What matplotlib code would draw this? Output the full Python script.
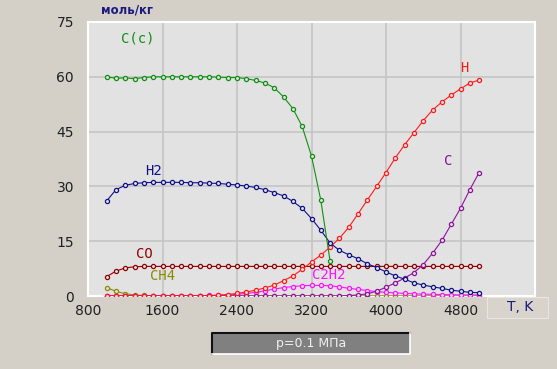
import numpy as np
import matplotlib
matplotlib.use("Agg")
import matplotlib.pyplot as plt
from matplotlib.patches import Rectangle
from matplotlib.lines import Line2D

# temperature grid, K
T = np.arange(1000, 5001, 100)

c_solid = [60.0, 59.6, 59.7, 59.5, 59.8, 60.0, 60.0, 60.0, 60.0, 60.0, 60.0, 60.0,
           59.9, 59.8, 59.8, 59.5, 59.0, 58.3, 57.0, 54.5, 51.3, 46.4, 38.3, 26.2, 9.5]
h2 = [26.0, 29.1, 30.3, 30.8, 31.0, 31.1, 31.1, 31.1, 31.1, 31.0, 31.0, 30.9, 30.8,
      30.6, 30.4, 30.1, 29.7, 29.1, 28.3, 27.4, 25.9, 24.0, 21.2, 18.0, 14.5, 12.5,
      11.3, 10.2, 8.8, 7.8, 6.6, 5.5, 4.6, 3.6, 3.0, 2.5, 2.1, 1.6, 1.3, 1.0, 0.9]
h = [0.0] * 10 + [0.05, 0.1, 0.2, 0.4, 0.7, 1.1, 1.6, 2.2, 3.0, 4.2, 5.5, 7.3, 9.3,
                  11.2, 13.4, 15.8, 18.8, 22.5, 26.3, 30.0, 33.8, 37.8, 41.4, 44.7,
                  48.0, 50.9, 53.1, 55.0, 56.7, 58.3, 59.1]
c_gas = [0.0] * 26 + [0.1, 0.3, 0.6, 1.3, 2.4, 3.6, 4.9, 6.4, 8.6, 11.7, 15.2, 19.6,
                      24.0, 29.1, 33.8]
co = [5.3, 6.8, 7.7, 8.0] + [8.1] * 37
ch4 = [2.3, 1.3, 0.6, 0.3, 0.15] + [0.05] * 36
c2h2 = [0.1] * 11 + [0.15, 0.2, 0.3, 0.45, 0.7, 1.0, 1.4, 1.9, 2.3, 2.6, 2.8, 2.9,
                     2.9, 2.8, 2.5, 2.1, 1.8, 1.5, 1.2, 1.0, 0.85, 0.7, 0.6, 0.5,
                     0.45, 0.4, 0.35, 0.3, 0.3, 0.3]

x_ticks = [800, 1600, 2400, 3200, 4000, 4800]
y_ticks = [0, 15, 30, 45, 60, 75]

series = [
    ("CH4", ch4, "#8a8a00", (1600, 5.4)),
    ("C2H2", c2h2, "#ff10ff", (3390, 5.7)),
    ("CO", co, "#900000", (1410, 11.4)),
    ("C", c_gas, "#9010a0", (4670, 37.0)),
    ("H", h, "#ff1a1a", (4840, 62.5)),
    ("H2", h2, "#10108a", (1500, 34.3)),
    ("C(c)", c_solid, "#109010", (1330, 70.5)),
]

fig = plt.figure(figsize=(5.57, 3.69), dpi=100)
fig.patch.set_facecolor("#d4d0c8")
ax = fig.add_axes([88 / 557, 1 - 296 / 369, (535 - 88) / 557, (296 - 22) / 369])
ax.set_facecolor("#e2e2e2")

for name, vals, col, (lx, ly) in series:
    ax.plot(T[:len(vals)], vals, "-o", color=col, lw=0.8, ms=3.0,
            mfc="#e2e2e2", mec=col, mew=0.9, zorder=3)
    ax.text(lx, ly, name, color=col, fontsize=10, ha="center", va="center",
            family="DejaVu Sans Mono")

ax.set_xlim(800, 5600)
ax.set_ylim(0, 75)
ax.set_xticks(x_ticks)
ax.set_yticks(y_ticks)
ax.grid(True, color="#c4c4c4", lw=1.2)
ax.set_axisbelow(True)
ax.tick_params(length=0, labelsize=10, colors="#202020")
ax.tick_params(axis="y", pad=10)
ax.tick_params(axis="x", pad=6)
for s in ax.spines.values():
    s.set_color("white")
    s.set_linewidth(1.5)

fig.text(101 / 557, 1 - 10 / 369, "моль/кг", color="#1a1a80", fontsize=8.5,
         fontweight="bold", va="center")

# "T, K" caption box
fig.patches.append(Rectangle((487 / 557, 1 - 318 / 369), 61 / 557, 21 / 369,
                             transform=fig.transFigure, fc="#d8d4cc",
                             ec="#e8e6e0", lw=0.8))
fig.text(507 / 557, 1 - 307 / 369, "T, K", color="#1a1a80", fontsize=10,
         va="center", ha="left")

# pressure label box (sunken panel)
x0, x1, y0, y1 = 212, 410, 333, 354
fig.patches.append(Rectangle((x0 / 557, 1 - y1 / 369), (x1 - x0) / 557,
                             (y1 - y0) / 369, transform=fig.transFigure,
                             fc="#808080", ec="none"))
fig.lines.append(Line2D([x0 / 557, x0 / 557, x1 / 557],
                        [1 - y1 / 369, 1 - y0 / 369, 1 - y0 / 369],
                        transform=fig.transFigure, color="#101010", lw=1.5))
fig.lines.append(Line2D([x0 / 557, x1 / 557, x1 / 557],
                        [1 - y1 / 369, 1 - y1 / 369, 1 - y0 / 369],
                        transform=fig.transFigure, color="white", lw=1.2))
fig.text((x0 + x1) / 2 / 557, 1 - 344 / 369, "p=0.1 МПа", color="#f0f0f0",
         fontsize=9, ha="center", va="center")

fig.savefig("out.png", dpi=100, facecolor=fig.get_facecolor())
